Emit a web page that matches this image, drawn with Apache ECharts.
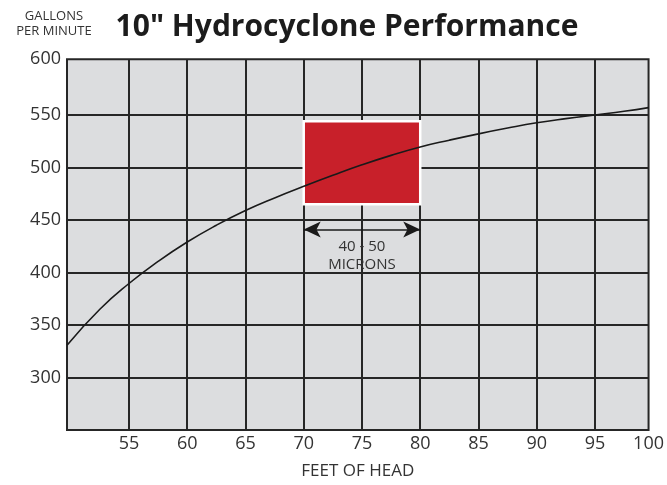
<!DOCTYPE html>
<html>
<head>
<meta charset="utf-8">
<script src="https://cdn.jsdelivr.net/npm/echarts@6/dist/echarts.min.js"></script>
<style>
html,body{margin:0;padding:0;background:#fff;}
#chart{width:667px;height:485px;}
</style>
</head>
<body>
<div id="chart"></div>
<script>
// ---- data ----
const feetOfHead = [49.7, 52.5, 55, 57.5, 60, 62.5, 65, 67.5, 70, 72.5, 75, 77.5, 80, 82.5, 85, 87.5, 90, 92.5, 95, 97.5, 99.6];
const gallonsPerMinute = [331, 365, 389.5, 410.5, 429, 445, 459, 471, 482, 492.5, 502.5, 511.5, 519.5, 526, 532, 537.5, 542.5, 546.5, 550, 553.5, 557];
const xTickValues = [55, 60, 65, 70, 75, 80, 85, 90, 95];
const xLabelValues = [55, 60, 65, 70, 75, 80, 85, 90, 95, 99.6];
const yTickValues = [300, 350, 400, 450, 500, 550];
const yLabelValues = [300, 350, 400, 450, 500, 550, 603];
const xRange = [49.68, 99.6];
const yRange = [250, 603];
const micronBandX = [70, 80];
const micronBandY = [465, 544];
const micronArrowY = 441;
const micronLabelPos = [75, 416];
const micronLabel = '40 - 50\nMICRONS';

const chart = echarts.init(document.getElementById('chart'), null, {renderer: 'canvas'});
const font = '"Open Sans", Roboto, sans-serif';
const gridColor = '#262626';

chart.setOption({
  animation: false,
  title: [{
    text: '10" Hydrocyclone Performance',
    left: 342, top: 7, textAlign: 'center',
    textStyle: {fontFamily: font, fontSize: 30, fontWeight: 'bold', color: '#1c1c1c'}
  }, {
    text: 'GALLONS\nPER MINUTE',
    left: 49, top: 4, textAlign: 'center',
    textStyle: {fontFamily: font, fontSize: 13, fontWeight: 'normal', color: '#333', lineHeight: 15}
  }],
  grid: {
    left: 67, right: 14.3, top: 59.3, bottom: 48.7,
    show: true, backgroundColor: '#dcdddf', borderColor: gridColor, borderWidth: 2
  },
  xAxis: {
    type: 'value', min: xRange[0], max: xRange[1],
    name: 'FEET OF HEAD', nameLocation: 'middle', nameGap: 33,
    nameTextStyle: {fontFamily: font, fontSize: 17, color: '#333'},
    axisLine: {show: false},
    axisTick: {show: false, customValues: xTickValues},
    axisLabel: {
      customValues: xLabelValues, margin: 5,
      fontFamily: font, fontSize: 18, color: '#333',
      formatter: v => String(Math.round(v / 5) * 5)
    },
    splitLine: {show: true, lineStyle: {color: gridColor, width: 2}}
  },
  yAxis: {
    type: 'value', min: yRange[0], max: yRange[1],
    axisLine: {show: false},
    axisTick: {show: false, customValues: yTickValues},
    axisLabel: {
      customValues: yLabelValues, margin: 6,
      fontFamily: font, fontSize: 18, color: '#333',
      formatter: v => String(Math.round(v / 50) * 50)
    },
    splitLine: {show: true, lineStyle: {color: gridColor, width: 2}}
  },
  series: [{
    type: 'line', z: 1, data: [], silent: true,
    markArea: {
      silent: true,
      itemStyle: {color: '#c8202a', borderColor: '#ffffff', borderWidth: 2.5},
      data: [[{coord: [micronBandX[0], micronBandY[1]]}, {coord: [micronBandX[1], micronBandY[0]]}]]
    }
  }, {
    type: 'line', z: 3,
    data: feetOfHead.map((x, i) => [x, gallonsPerMinute[i]]),
    smooth: 0.5, showSymbol: false, symbol: 'none',
    lineStyle: {color: '#1a1a1a', width: 1.6},
    clip: true
  }, {
    type: 'line', z: 4, data: [], silent: true,
    markLine: {
      silent: true, symbol: ['arrow', 'arrow'], symbolSize: [12, 17],
      lineStyle: {color: '#1a1a1a', width: 1.6, type: 'solid'},
      label: {show: false},
      data: [[{coord: [micronBandX[0], micronArrowY]}, {coord: [micronBandX[1], micronArrowY]}]]
    },
    markPoint: {
      silent: true, symbol: 'circle', symbolSize: 0,
      label: {show: true, position: 'inside', formatter: micronLabel,
        fontFamily: font, fontSize: 15, color: '#333', lineHeight: 18},
      data: [{coord: micronLabelPos}]
    }
  }]
});
</script>
</body>
</html>
